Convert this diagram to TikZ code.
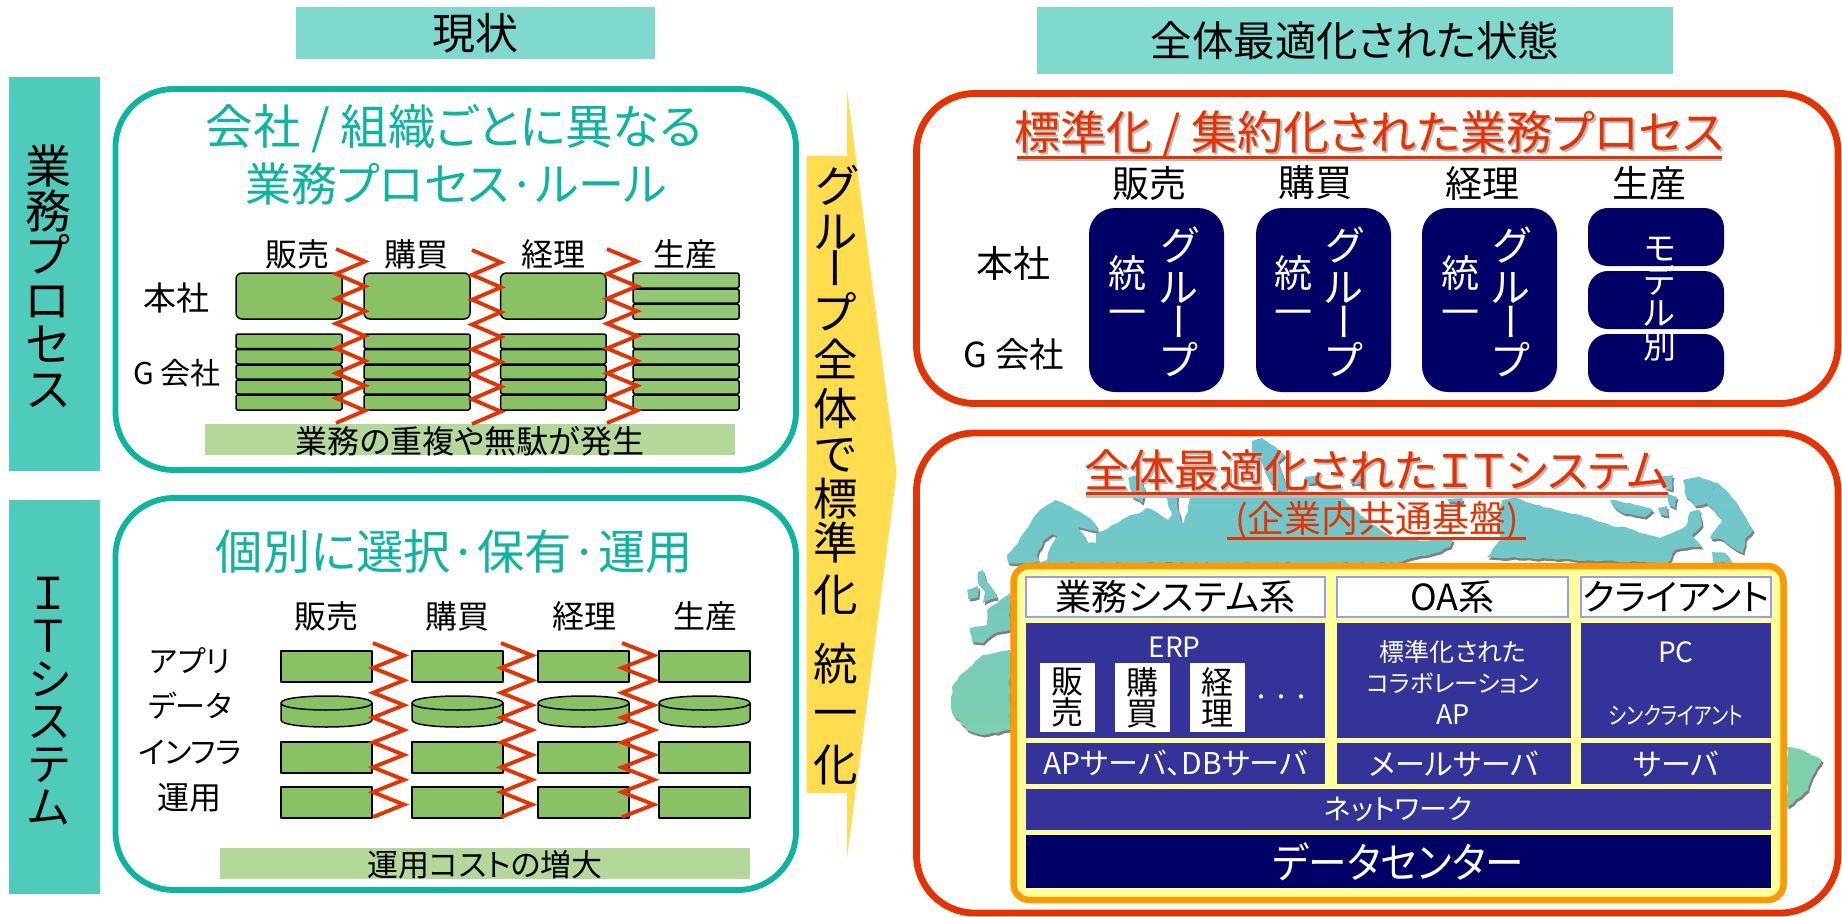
\documentclass[tikz,border=0pt]{standalone}
\usepackage{fontspec}
\usepackage{graphicx}
\usetikzlibrary{decorations.pathmorphing}
\setmainfont{Noto Sans CJK JP}[RawFeature=+palt]
\newfontfamily\jpw{Noto Sans CJK JP}
\newfontfamily\jpv{Noto Sans CJK JP}[RawFeature=+vert]
\definecolor{tealLine}{HTML}{0CB5A0}
\definecolor{stripTeal}{HTML}{4FCBBB}
\definecolor{headTeal}{HTML}{80D9CF}
\definecolor{redLine}{HTML}{E63200}
\definecolor{grn}{HTML}{88C264}
\definecolor{grnB}{HTML}{92C774}
\definecolor{barGrn}{HTML}{B4D89A}
\definecolor{yel}{HTML}{FFDD4F}
\definecolor{navy}{HTML}{000066}
\definecolor{blu}{HTML}{333399}
\definecolor{lav}{HTML}{9999FF}
\definecolor{pale}{HTML}{FFFF99}
\definecolor{orng}{HTML}{FF9900}
\definecolor{mapTop}{HTML}{6CC4D4}
\definecolor{mapBot}{HTML}{80D2A6}
\definecolor{shd}{HTML}{BBBBBB}
\newcommand\fs[2]{\fontsize{#1}{#2}\selectfont\lineskiplimit=-100pt\normallineskiplimit=-100pt }
% [style]{name}{x0}{y0}{x1}{y1}{text}
\newcommand\bx[7][]{%
  \pgfmathsetmacro\bxW{#5-#3}\pgfmathsetmacro\bxH{#6-#4}%
  \node[#1,rectangle,inner sep=0pt,outer sep=0pt,minimum width=\bxW pt,minimum height=\bxH pt] (#2) at ({(#3+#5)/2},{(#4+#6)/2}) {#7};}
% [style]{name}{x}{y}{size}{text}
\newcommand\tx[6][]{\node[txt,#1,font=\fs{#5}{#5}] (#2) at (#3,#4) {#6};}
% vertical stack {name}{x}{y}{size}{leading}[style]{text}
\newcommand\stk[7][]{\node[txt,align=center,#1,font=\fs{#5}{#6}] (#2) at (#3,#4) {#7};}
% shadowed red title
\newcommand\shtx[5]{%
  \node[txt,text=shd,font=\fs{#4}{#4}] (#1s) at ({#2+2},{#3+2}) {#5};
  \node[txt,text=redLine,font=\fs{#4}{#4}] (#1) at (#2,#3) {#5};}
% zigzag {xleft}{xright}{ytop}{ybottom}
\newcommand\zig[4]{\draw[zz] (#1,#3) \foreach \i in {1,...,14} {-- ({#1+(#2-#1)*mod(\i,2)},{#3+\i*(#4-#3)/14})};}
% cylinder {x0}{x1}{y0}{y1}
\newcommand\cyl[4]{\draw[box,fill=grn] (#1,{#3+7}) -- (#1,{#4-7}) .. controls (#1,{#4+2.33}) and (#2,{#4+2.33}) .. (#2,{#4-7}) -- (#2,{#3+7}) .. controls (#2,{#3-2.33}) and (#1,{#3-2.33}) .. (#1,{#3+7}) -- cycle;
  \draw[box] (#1,{#3+7}) .. controls (#1,{#3+16.33}) and (#2,{#3+16.33}) .. (#2,{#3+7});}
\newcommand\mapshape{
  (1008,563) -- (1007,555) -- (1018,543) -- (1026,530) -- (1032,520) -- (1040,510) -- (1047,505) -- (1055,500) -- (1063,503) -- (1075,510) -- (1088,517) -- (1096,525) -- (1098,532) -- (1090,530) -- (1078,527) -- (1084,535) -- (1087,543) -- (1096,543) -- (1096,534) -- (1103,531) -- (1112,525) -- (1120,521) -- (1127,517) -- (1140,513) -- (1147,508) -- (1158,513) -- (1168,520) -- (1172,515) -- (1166,498) -- (1178,495) -- (1178,510) -- (1182,525) -- (1188,512) -- (1190,496) -- (1340,496) -- (1360,515) -- (1385,533) -- (1400,540) -- (1453,540) -- (1450,547) -- (1435,553) -- (1420,556) -- (1405,560) -- (1397,563) -- cycle
  (1037,556) -- (1044,540) -- (1052,534) -- (1057,536) -- (1050,548) -- (1047,560) -- (1040,563) -- cycle
  (1252,441) -- (1262,438) -- (1272,445) -- (1285,455) -- (1278,462) -- (1284,480) -- (1288,492) -- (1275,490) -- (1268,478) -- (1262,462) -- (1252,452) -- cycle
  (1128,478) -- (1140,475) -- (1145,490) -- (1142,503) -- (1132,497) -- cycle
  (1305,477) -- (1318,476) -- (1316,483) -- (1306,483) -- cycle
  (1350,479) -- (1362,478) -- (1360,484) -- (1351,484) -- cycle
  (1447,499) -- (1463,498) -- (1462,502) -- (1449,502) -- cycle
  (1487,557) -- (1500,540) -- (1497,525) -- (1502,500) -- (1515,498) -- (1530,503) -- (1557,510) -- (1580,515) -- (1600,522) -- (1612,526) -- (1625,527) -- (1640,533) -- (1660,538) -- (1672,533) -- (1686,526) -- (1690,512) -- (1700,510) -- (1702,525) -- (1692,535) -- (1702,547) -- (1690,547) -- (1675,550) -- (1668,563) -- cycle
  (1610,500) -- (1630,503) -- (1653,510) -- (1645,517) -- (1625,514) -- (1615,508) -- cycle
  (1658,508) -- (1667,506) -- (1668,516) -- (1660,514) -- cycle
  (1667,493) -- (1677,497) -- (1675,508) -- (1669,505) -- cycle
  (1663,476) -- (1673,475) -- (1672,490) -- (1665,488) -- cycle
  (1683,480) -- (1700,477) -- (1717,483) -- (1712,492) -- (1707,503) -- (1695,506) -- (1686,497) -- cycle
  (1717,482) -- (1730,495) -- (1737,503) -- (1745,517) -- (1753,530) -- (1745,540) -- (1743,553) -- (1733,548) -- (1723,540) -- (1710,538) -- (1722,522) -- (1715,512) -- (1707,504) -- cycle
  (1712,552) -- (1725,553) -- (1733,563) -- (1713,563) -- cycle
  (1010,650) -- (983,655) -- (970,667) -- (960,675) -- (952,687) -- (952,713) -- (967,730) -- (983,735) -- (1010,730) -- cycle
  (1010,593) -- (1000,600) -- (987,610) -- (987,625) -- (970,628) -- (972,642) -- (983,643) -- (995,633) -- (1010,630) -- cycle
  (978,572) -- (983,570) -- (987,582) -- (995,592) -- (997,598) -- (983,603) -- (985,592) -- (978,583) -- cycle
  (967,590) -- (978,586) -- (978,597) -- (968,599) -- cycle
  (1787,747) -- (1803,750) -- (1822,760) -- (1812,777) -- (1808,790) -- (1790,805) -- (1787,807) -- cycle
}
\tikzset{
  x=1pt,y=-1pt,
  txt/.style={inner sep=0pt,outer sep=0pt,text=black},
  wtx/.style={txt,text=white},
  round1/.style={draw=tealLine,line width=5.8pt,fill=white,rounded corners=58pt},
  round2/.style={draw=redLine,line width=6.8pt,fill=white,rounded corners=58pt},
  box/.style={draw=black,line width=1.5pt,line join=round},
  grnbox/.style={box,fill=grn,rounded corners=1.5pt},
  grnboxb/.style={box,fill=grnB,rounded corners=1.5pt},
  bigbox/.style={box,fill=grn,rounded corners=6pt},
  sqbox/.style={box,fill=grn},
  zz/.style={draw=redLine,line width=3.8pt,line join=miter},
  ul/.style={draw=redLine,line width=3pt},
  uls/.style={draw=shd,line width=3pt},
  rough/.style={decorate,decoration={random steps,segment length=5pt,amplitude=0.9pt}},
}
\begin{document}
\begin{tikzpicture}
\useasboundingbox (0,0) rectangle (1842,916);
\fill[white] (0,0) rectangle (1842,916);
% heading bars
\bx[fill=headTeal,font=\fs{43}{43}]{hL}{296}{7}{655}{59}{\raisebox{-3pt}{現状}}
\bx[fill=headTeal,font=\fs{41.5}{41.5}]{hR}{1037}{7}{1673}{74}{\raisebox{-2pt}{全体最適化された状態}}
% side strips
\bx[fill=stripTeal]{sA}{9}{77}{100}{471}{}
\bx[fill=stripTeal]{sB}{9}{500}{100}{894}{}
\stk{sAt}{48}{276.5}{46}{44.5}{業\\務\\プ\\ロ\\セ\\ス}
\stk{sBt}{49}{701}{44}{42.7}{Ｉ\\Ｔ\\シ\\ス\\テ\\ム}
% left round boxes
\bx[round1]{pA}{115.5}{89}{796}{470}{}
\bx[round1]{pB}{115.5}{498}{796}{890}{}
\tx[text=tealLine]{tA1}{454}{129}{47.5}{会社 / 組織ごとに異なる}
\tx[text=tealLine]{tA2}{456}{184}{46}{業務プロセス·ルール}
\tx[text=tealLine]{tB1}{454.5}{552}{47.3}{個別に選択·保有·運用}
% process grid: headers
\tx{a1}{297}{254}{32}{販売}
\tx{a2}{416}{254}{32}{購買}
\tx{a3}{553}{254}{32}{経理}
\tx{a4}{685}{254}{32}{生産}
\tx{ar1}{176}{298}{33}{本社}
\tx{ar2}{177}{373}{30}{G 会社}
% process grid: boxes
\bx[bigbox]{g1}{236}{273}{342}{319}{}
\bx[bigbox]{g2}{364}{273}{470}{319}{}
\bx[bigbox]{g3}{500.5}{273}{606}{319}{}
\bx[grnboxb]{g41}{633}{273}{739}{288}{}
\bx[grnboxb]{g42}{633}{289}{739}{303}{}
\bx[grnboxb]{g43}{633}{304}{739}{319}{}
\foreach \cn/\xa/\xb/\st in {1/236/342/grnbox,2/364/470/grnbox,3/500.5/606/grnbox,4/633/739/grnboxb}{
  \foreach \rn/\ya/\yb in {1/334/348.5,2/349.5/364,3/365/379,4/380/394,5/395/410}{
    \bx[\st]{h\cn\rn}{\xa}{\ya}{\xb}{\yb}{}
  }
}
\bx[fill=barGrn]{barA}{205}{424}{735}{455}{}
\tx{barAt}{470}{441}{32}{業務の重複や無駄が発生}
\zig{336}{365}{249}{423}
\zig{472}{501}{250}{424}
\zig{607}{637}{249}{423}
% system grid: headers
\tx{b1}{326}{616}{32}{販売}
\tx{b2}{457}{616}{32}{購買}
\tx{b3}{584}{616}{32}{経理}
\tx{b4}{705}{616}{32}{生産}
\tx{br1}{190}{661}{30}{アプリ}
\tx{br2}{190}{706}{30}{データ}
\tx{br3}{190}{752}{30}{インフラ}
\tx{br4}{189}{798}{32}{運用}
\foreach \cn/\xa/\xb in {1/281/372,2/412/503,3/538/629,4/659/750}{
  \bx[sqbox]{k\cn a}{\xa}{651}{\xb}{682}{}
  \cyl{\xa}{\xb}{696}{727}
  \bx[sqbox]{k\cn c}{\xa}{742}{\xb}{773}{}
  \bx[sqbox]{k\cn d}{\xa}{787}{\xb}{818}{}
}
\bx[fill=barGrn]{barB}{220}{848}{750}{879}{}
\tx{barBt}{485}{865}{31}{運用コストの増大}
\zig{373}{404}{643}{817}
\zig{501}{532}{643}{817}
\zig{622}{654}{643}{817}
% central arrow
\fill[yel] (806.7,155.5) -- (847,155.5) -- (847,90) -- (896.7,473) -- (847,858) -- (847,793) -- (806.7,793) -- cycle;
\stk{arrowt}{836}{475}{44.5}{46}{グ\\ル\\[-9pt]{\jpv ー}\\[-2pt]プ\\[1pt]全\\[3pt]体\\[-1pt]で\\[-1pt]標\\[-2pt]準\\[6pt]化\\[23pt]統\\[3pt]一\\[6pt]化}
% right red boxes
\bx[round2]{qA}{916.5}{93.5}{1838}{403.5}{}
\bx[round2]{qB}{916.5}{433}{1838}{913}{}
% map
\pgfmathsetseed{7}
\path[fill=gray,even odd rule,shift={(1.5,2.5)},rough] \mapshape;
\pgfmathsetseed{7}
\path[even odd rule,top color=mapTop,bottom color=mapBot,rough] \mapshape;
% upper right
\shtx{tq1}{1369.5}{134}{46}{標準化 / 集約化された業務プロセス}
\draw[uls] (1017,159.5) -- (1722,159.5);
\draw[ul] (1017,157) -- (1722,157);
\tx{c1}{1149}{183}{37}{販売}
\tx{c2}{1315}{183}{37}{購買}
\tx{c3}{1482}{183}{37}{経理}
\tx{c4}{1649}{183}{37}{生産}
\tx{cr1}{1013}{263}{37}{本社}
\tx{cr2}{1014}{354}{34.5}{G 会社}
\foreach \cn/\xa/\xb/\xs/\xg in {1/1089/1224/1127/1179,2/1256/1391/1293.5/1344.6,3/1422/1557/1460/1511.6}{
  \bx[fill=navy,rounded corners=26pt]{n\cn}{\xa}{208}{\xb}{392}{}
  \stk[text=white]{ns\cn}{\xs}{291}{38}{39}{統\\一}
  \stk[text=white]{ng\cn}{\xg}{301.5}{40}{42}{グ\\ル\\[-7pt]{\jpv ー}\\[-4pt]プ}
}
\bx[fill=navy,rounded corners=20pt]{m1}{1588}{208}{1724}{266}{}
\bx[fill=navy,rounded corners=20pt]{m2}{1588}{271}{1724}{329}{}
\bx[fill=navy,rounded corners=20pt]{m3}{1588}{334}{1724}{392}{}
\stk[text=white]{mt}{1660}{299}{33}{32.5}{モ\\デ\\ル\\別}
% lower right titles
\shtx{tq2}{1377}{470}{45}{全体最適化されたＩＴシステム}
\draw[uls] (1086,496) -- (1668,496);
\draw[ul] (1086,493) -- (1668,493);
\tx[text=redLine]{tq3}{1377}{521}{37}{(企業内共通基盤)}
\draw[ul] (1227,538) -- (1526,538);
% platform
\bx[fill=pale,draw=orng,line width=6.5pt,rounded corners=16pt]{plat}{1013.5}{566}{1783.5}{900}{}
\bx[fill=white,draw=lav,line width=2.5pt,font=\fs{36}{36}]{w1}{1026}{577}{1325}{617}{業務システム系}
\bx[fill=white,draw=lav,line width=2.5pt,font=\fs{36}{36}]{w2}{1337}{577}{1568}{617}{OA系}
\bx[fill=white,draw=lav,line width=2.5pt,font=\fs{36}{36}]{w3}{1581}{577}{1771}{617}{クライアント}
\bx[fill=blu]{e1}{1026}{623}{1325}{738}{}
\bx[fill=blu]{e2}{1337}{623}{1571}{738}{}
\bx[fill=blu]{e3}{1581}{623}{1771}{738}{}
\tx[text=white]{erp}{1174.5}{647}{28}{ERP}
\bx[fill=white,align=center,font=\fs{32}{31}]{w4}{1040}{663}{1095}{732}{販\\売}
\bx[fill=white,align=center,font=\fs{32}{31}]{w5}{1115}{663}{1170}{732}{購\\買}
\bx[fill=white,align=center,font=\fs{32}{31}]{w6}{1190}{663}{1245}{732}{経\\理}
\node[wtx,font=\jpw\fs{20}{20}] (dots) at (1281,700) {・・・};
\tx[text=white]{oa1}{1453}{652}{25}{標準化された}
\tx[text=white]{oa2}{1453}{683}{24}{コラボレーション}
\tx[text=white]{oa3}{1453}{715}{27}{AP}
\tx[text=white]{cl1}{1676}{652}{28}{PC}
\tx[text=white]{cl2}{1676}{715}{24}{\scalebox{0.8}[1]{シンクライアント}}
\bx[fill=blu,text=white,font=\fs{30}{30}]{s1}{1026}{743}{1325}{784}{APサーバ、DBサーバ}
\bx[fill=blu,text=white,font=\fs{30}{30}]{s2}{1337}{743}{1571}{784}{メールサーバ}
\bx[fill=blu,text=white,font=\fs{30}{30}]{s3}{1581}{743}{1771}{784}{サーバ}
\bx[fill=blu,text=white,font=\fs{28}{28}]{net}{1026}{789}{1771}{830}{\raisebox{-2pt}{ネットワーク}}
\bx[fill=navy,text=white,font=\fs{42}{42}]{dc}{1026}{835}{1771}{888}{\raisebox{-2pt}{\scalebox{0.92}[1]{データセンター}}}
\end{tikzpicture}
\end{document}
